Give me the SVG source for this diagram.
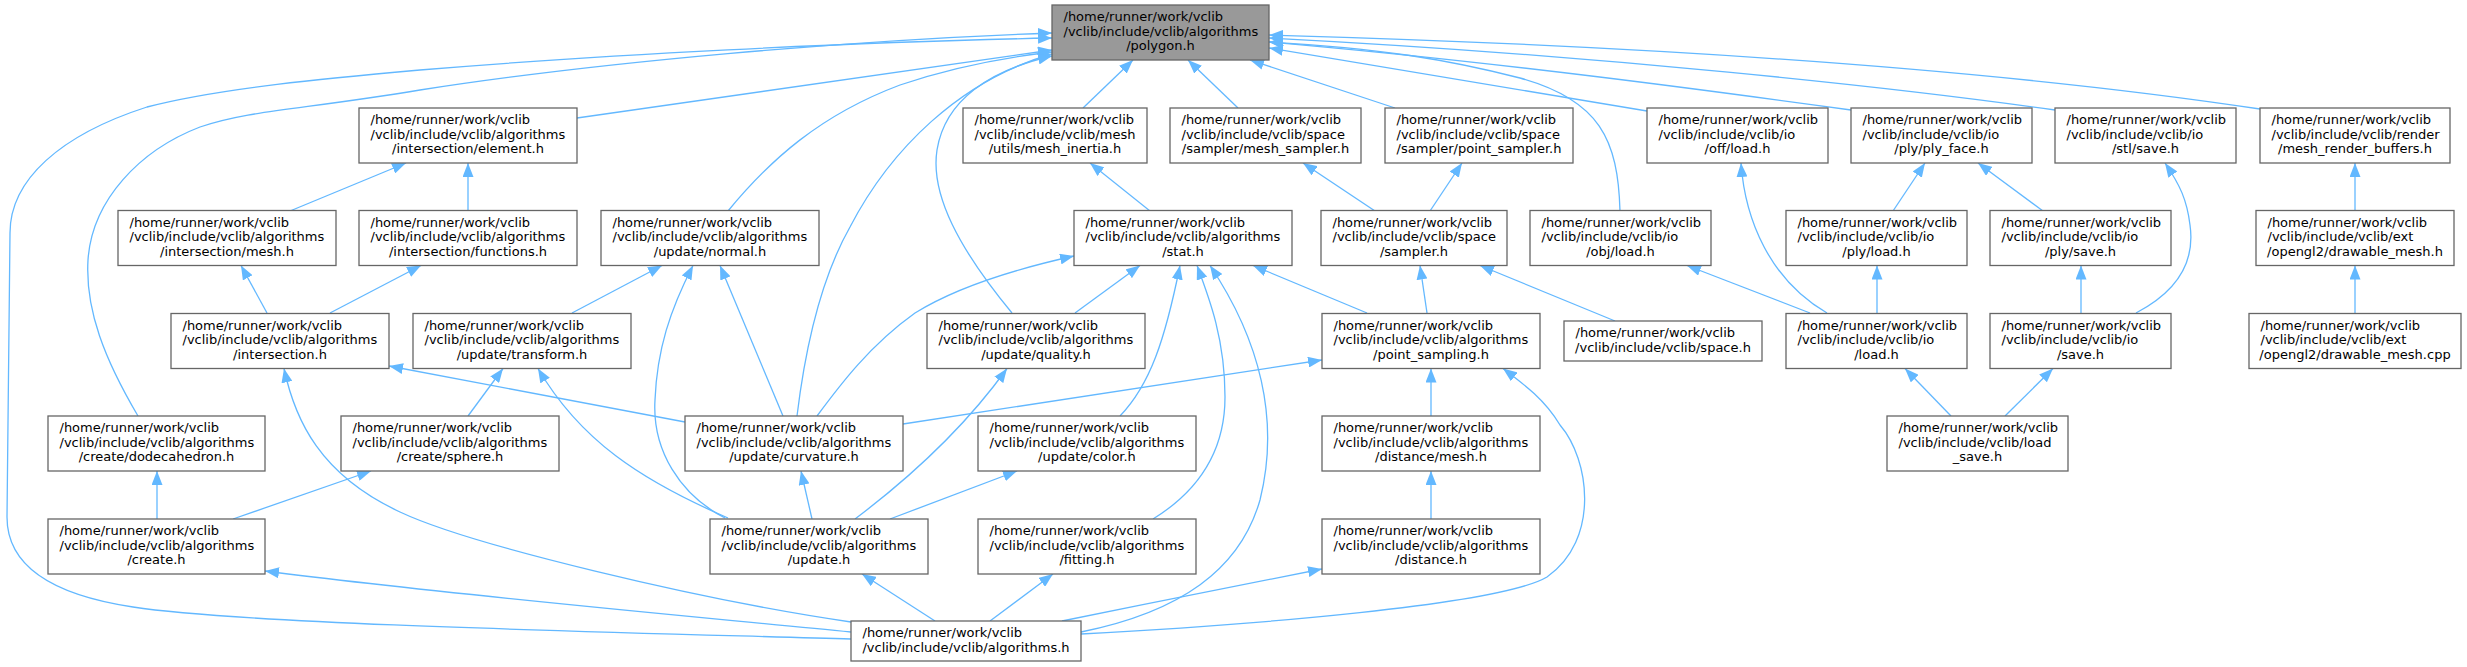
<svg xmlns="http://www.w3.org/2000/svg" width="2467" height="667" viewBox="0 0 2467 667">
<style>
.n rect{fill:#fff;stroke:#666;stroke-width:1.3}
.n text{font-family:"DejaVu Sans",sans-serif;font-size:13px;fill:#000}
.m{text-anchor:middle}
.e path{fill:none;stroke:#63b8ff;stroke-width:1.3;marker-end:url(#ah)}
</style>
<defs>
<marker id="ah" viewBox="0 0 14 11" refX="14" refY="5.5" markerWidth="14" markerHeight="11" markerUnits="userSpaceOnUse" orient="auto"><path d="M0,0 L14,5.5 L0,11 Z" fill="#63b8ff" stroke="none"/></marker>
</defs>
<rect width="2467" height="667" fill="#fff"/>
<g id="edges" class="e">
<path d="M851,639 C650,633 250,625 133,607 C60,596 7,570 7,517 L10,233 C10,180 60,135 147,107 C220,88 330,78 420,70 C600,55 850,42 1052,38"/>
<path d="M138,416 C105,360 85,310 88,260 C92,200 140,150 200,127 C250,110 300,110 420,90 C600,62 850,40 1052,33"/>
<path d="M577,118 L1052,50"/>
<path d="M728,211 C770,160 820,115 900,85 C950,68 1000,58 1052,52"/>
<path d="M797,416 C805,350 820,280 850,227 C890,150 960,80 1052,54"/>
<path d="M1012,313 C960,250 930,195 937,150 C945,100 990,70 1052,56"/>
<path d="M2260,109 C2100,85 1800,50 1269,35"/>
<path d="M2055,110 C1900,88 1600,55 1269,38"/>
<path d="M1851,110 C1720,92 1500,62 1269,42"/>
<path d="M1647,111 L1269,48"/>
<path d="M1620,211 C1618,140 1600,100 1520,78 C1450,60 1380,48 1269,42"/>
<path d="M1395,108 L1250,60"/>
<path d="M1238,108 L1188,60"/>
<path d="M1083,108 L1133,60"/>
<path d="M290,211 L406,163"/>
<path d="M468,211 L468,163"/>
<path d="M267,313 L241,265.5"/>
<path d="M330,313 L421,265.5"/>
<path d="M572,313 L662,265.5"/>
<path d="M725,518 C680,495 652,450 655,400 C657,350 670,310 693,265.5"/>
<path d="M783,416 L720,265.5"/>
<path d="M817,416 C840,385 870,345 915,313 C960,285 1020,268 1074,256"/>
<path d="M685,422 L389,366"/>
<path d="M812,519 L801,471"/>
<path d="M468,416 L503,368.5"/>
<path d="M728,518 C640,480 580,440 538,368.5"/>
<path d="M233,519 L371,471"/>
<path d="M157,519 L157,471"/>
<path d="M851,622 C700,600 470,545 400,512 C320,475 295,420 284,368.5"/>
<path d="M851,632 C700,617 450,595 265,571"/>
<path d="M935,621 L862,574"/>
<path d="M990,621 L1053,574"/>
<path d="M1062,621 C1150,603 1250,583 1322,569"/>
<path d="M1081,632 C1180,612 1240,570 1260,500 C1280,420 1260,340 1210,265.5"/>
<path d="M1081,634 C1250,625 1500,605 1547,577 C1600,540 1590,460 1560,425 C1545,400 1525,385 1503,368.5"/>
<path d="M855,519 C920,470 970,420 1007,368.5"/>
<path d="M890,519 L1017,471"/>
<path d="M1120,416 C1150,385 1165,340 1180,265.5"/>
<path d="M1153,519 C1200,490 1225,450 1225,397 C1225,340 1210,300 1197,265.5"/>
<path d="M1075,313 L1140,265.5"/>
<path d="M1150,211 L1090,163"/>
<path d="M1367,313 L1253,265.5"/>
<path d="M903,424 L1322,360"/>
<path d="M1427,313 L1420,265.5"/>
<path d="M1615,321 L1480,265.5"/>
<path d="M1375,211 L1303,163"/>
<path d="M1430,211 L1462,163"/>
<path d="M1431,416 L1431,368.5"/>
<path d="M1431,519 L1431,471"/>
<path d="M1827,313 C1770,280 1745,220 1741,163"/>
<path d="M1810,313 L1687,265.5"/>
<path d="M1877,313 L1877,265.5"/>
<path d="M1893,211 L1925,163"/>
<path d="M2043,211 L1978,163"/>
<path d="M2081,313 L2081,265.5"/>
<path d="M2136,313 C2180,290 2195,260 2190,225 C2187,200 2180,185 2165,163"/>
<path d="M1951,416 L1905,368.5"/>
<path d="M2005,416 L2053,368.5"/>
<path d="M2355,211 L2355,163"/>
<path d="M2355,313 L2355,265.5"/>
</g>
<g id="polygon_h" class="n"><rect x="1052" y="5" width="217" height="55" style="fill:#999"/><text><tspan x="1063.5" y="21">/home/runner/work/vclib</tspan><tspan x="1063.5" y="35.5">/vclib/include/vclib/algorithms</tspan><tspan class="m" x="1160.5" y="50">/polygon.h</tspan></text></g>
<g id="intersection_element_h" class="n"><rect x="359" y="108" width="218" height="55"/><text><tspan x="370.5" y="124">/home/runner/work/vclib</tspan><tspan x="370.5" y="138.5">/vclib/include/vclib/algorithms</tspan><tspan class="m" x="468" y="153">/intersection/element.h</tspan></text></g>
<g id="mesh_inertia_h" class="n"><rect x="963" y="108" width="184" height="55"/><text><tspan x="974.5" y="124">/home/runner/work/vclib</tspan><tspan x="974.5" y="138.5">/vclib/include/vclib/mesh</tspan><tspan class="m" x="1055" y="153">/utils/mesh_inertia.h</tspan></text></g>
<g id="mesh_sampler_h" class="n"><rect x="1170" y="108" width="191" height="55"/><text><tspan x="1181.5" y="124">/home/runner/work/vclib</tspan><tspan x="1181.5" y="138.5">/vclib/include/vclib/space</tspan><tspan class="m" x="1265.5" y="153">/sampler/mesh_sampler.h</tspan></text></g>
<g id="point_sampler_h" class="n"><rect x="1385" y="108" width="188" height="55"/><text><tspan x="1396.5" y="124">/home/runner/work/vclib</tspan><tspan x="1396.5" y="138.5">/vclib/include/vclib/space</tspan><tspan class="m" x="1479" y="153">/sampler/point_sampler.h</tspan></text></g>
<g id="off_load_h" class="n"><rect x="1647" y="108" width="181" height="55"/><text><tspan x="1658.5" y="124">/home/runner/work/vclib</tspan><tspan x="1658.5" y="138.5">/vclib/include/vclib/io</tspan><tspan class="m" x="1737.5" y="153">/off/load.h</tspan></text></g>
<g id="ply_face_h" class="n"><rect x="1851" y="108" width="181" height="55"/><text><tspan x="1862.5" y="124">/home/runner/work/vclib</tspan><tspan x="1862.5" y="138.5">/vclib/include/vclib/io</tspan><tspan class="m" x="1941.5" y="153">/ply/ply_face.h</tspan></text></g>
<g id="stl_save_h" class="n"><rect x="2055" y="108" width="181" height="55"/><text><tspan x="2066.5" y="124">/home/runner/work/vclib</tspan><tspan x="2066.5" y="138.5">/vclib/include/vclib/io</tspan><tspan class="m" x="2145.5" y="153">/stl/save.h</tspan></text></g>
<g id="mesh_render_buffers_h" class="n"><rect x="2260" y="108" width="190" height="55"/><text><tspan x="2271.5" y="124">/home/runner/work/vclib</tspan><tspan x="2271.5" y="138.5">/vclib/include/vclib/render</tspan><tspan class="m" x="2355" y="153">/mesh_render_buffers.h</tspan></text></g>
<g id="intersection_mesh_h" class="n"><rect x="118" y="210.5" width="218" height="55"/><text><tspan x="129.5" y="226.5">/home/runner/work/vclib</tspan><tspan x="129.5" y="241">/vclib/include/vclib/algorithms</tspan><tspan class="m" x="227" y="255.5">/intersection/mesh.h</tspan></text></g>
<g id="intersection_functions_h" class="n"><rect x="359" y="210.5" width="218" height="55"/><text><tspan x="370.5" y="226.5">/home/runner/work/vclib</tspan><tspan x="370.5" y="241">/vclib/include/vclib/algorithms</tspan><tspan class="m" x="468" y="255.5">/intersection/functions.h</tspan></text></g>
<g id="update_normal_h" class="n"><rect x="601" y="210.5" width="218" height="55"/><text><tspan x="612.5" y="226.5">/home/runner/work/vclib</tspan><tspan x="612.5" y="241">/vclib/include/vclib/algorithms</tspan><tspan class="m" x="710" y="255.5">/update/normal.h</tspan></text></g>
<g id="stat_h" class="n"><rect x="1074" y="210.5" width="218" height="55"/><text><tspan x="1085.5" y="226.5">/home/runner/work/vclib</tspan><tspan x="1085.5" y="241">/vclib/include/vclib/algorithms</tspan><tspan class="m" x="1183" y="255.5">/stat.h</tspan></text></g>
<g id="sampler_h" class="n"><rect x="1321" y="210.5" width="186" height="55"/><text><tspan x="1332.5" y="226.5">/home/runner/work/vclib</tspan><tspan x="1332.5" y="241">/vclib/include/vclib/space</tspan><tspan class="m" x="1414" y="255.5">/sampler.h</tspan></text></g>
<g id="obj_load_h" class="n"><rect x="1530" y="210.5" width="181" height="55"/><text><tspan x="1541.5" y="226.5">/home/runner/work/vclib</tspan><tspan x="1541.5" y="241">/vclib/include/vclib/io</tspan><tspan class="m" x="1620.5" y="255.5">/obj/load.h</tspan></text></g>
<g id="ply_load_h" class="n"><rect x="1786" y="210.5" width="181" height="55"/><text><tspan x="1797.5" y="226.5">/home/runner/work/vclib</tspan><tspan x="1797.5" y="241">/vclib/include/vclib/io</tspan><tspan class="m" x="1876.5" y="255.5">/ply/load.h</tspan></text></g>
<g id="ply_save_h" class="n"><rect x="1990" y="210.5" width="181" height="55"/><text><tspan x="2001.5" y="226.5">/home/runner/work/vclib</tspan><tspan x="2001.5" y="241">/vclib/include/vclib/io</tspan><tspan class="m" x="2080.5" y="255.5">/ply/save.h</tspan></text></g>
<g id="drawable_mesh_h" class="n"><rect x="2256" y="210.5" width="198" height="55"/><text><tspan x="2267.5" y="226.5">/home/runner/work/vclib</tspan><tspan x="2267.5" y="241">/vclib/include/vclib/ext</tspan><tspan class="m" x="2355" y="255.5">/opengl2/drawable_mesh.h</tspan></text></g>
<g id="intersection_h" class="n"><rect x="171" y="313.5" width="218" height="55"/><text><tspan x="182.5" y="329.5">/home/runner/work/vclib</tspan><tspan x="182.5" y="344">/vclib/include/vclib/algorithms</tspan><tspan class="m" x="280" y="358.5">/intersection.h</tspan></text></g>
<g id="update_transform_h" class="n"><rect x="413" y="313.5" width="218" height="55"/><text><tspan x="424.5" y="329.5">/home/runner/work/vclib</tspan><tspan x="424.5" y="344">/vclib/include/vclib/algorithms</tspan><tspan class="m" x="522" y="358.5">/update/transform.h</tspan></text></g>
<g id="update_quality_h" class="n"><rect x="927" y="313.5" width="218" height="55"/><text><tspan x="938.5" y="329.5">/home/runner/work/vclib</tspan><tspan x="938.5" y="344">/vclib/include/vclib/algorithms</tspan><tspan class="m" x="1036" y="358.5">/update/quality.h</tspan></text></g>
<g id="point_sampling_h" class="n"><rect x="1322" y="313.5" width="218" height="55"/><text><tspan x="1333.5" y="329.5">/home/runner/work/vclib</tspan><tspan x="1333.5" y="344">/vclib/include/vclib/algorithms</tspan><tspan class="m" x="1431" y="358.5">/point_sampling.h</tspan></text></g>
<g id="space_h" class="n"><rect x="1564" y="321" width="198" height="40"/><text><tspan x="1575.5" y="337">/home/runner/work/vclib</tspan><tspan class="m" x="1663" y="351.5">/vclib/include/vclib/space.h</tspan></text></g>
<g id="io_load_h" class="n"><rect x="1786" y="313.5" width="181" height="55"/><text><tspan x="1797.5" y="329.5">/home/runner/work/vclib</tspan><tspan x="1797.5" y="344">/vclib/include/vclib/io</tspan><tspan class="m" x="1876.5" y="358.5">/load.h</tspan></text></g>
<g id="io_save_h" class="n"><rect x="1990" y="313.5" width="181" height="55"/><text><tspan x="2001.5" y="329.5">/home/runner/work/vclib</tspan><tspan x="2001.5" y="344">/vclib/include/vclib/io</tspan><tspan class="m" x="2080.5" y="358.5">/save.h</tspan></text></g>
<g id="drawable_mesh_cpp" class="n"><rect x="2249" y="313.5" width="212" height="55"/><text><tspan x="2260.5" y="329.5">/home/runner/work/vclib</tspan><tspan x="2260.5" y="344">/vclib/include/vclib/ext</tspan><tspan class="m" x="2355" y="358.5">/opengl2/drawable_mesh.cpp</tspan></text></g>
<g id="create_dodecahedron_h" class="n"><rect x="48" y="416" width="217" height="55"/><text><tspan x="59.5" y="432">/home/runner/work/vclib</tspan><tspan x="59.5" y="446.5">/vclib/include/vclib/algorithms</tspan><tspan class="m" x="156.5" y="461">/create/dodecahedron.h</tspan></text></g>
<g id="create_sphere_h" class="n"><rect x="341" y="416" width="218" height="55"/><text><tspan x="352.5" y="432">/home/runner/work/vclib</tspan><tspan x="352.5" y="446.5">/vclib/include/vclib/algorithms</tspan><tspan class="m" x="450" y="461">/create/sphere.h</tspan></text></g>
<g id="update_curvature_h" class="n"><rect x="685" y="416" width="218" height="55"/><text><tspan x="696.5" y="432">/home/runner/work/vclib</tspan><tspan x="696.5" y="446.5">/vclib/include/vclib/algorithms</tspan><tspan class="m" x="794" y="461">/update/curvature.h</tspan></text></g>
<g id="update_color_h" class="n"><rect x="978" y="416" width="218" height="55"/><text><tspan x="989.5" y="432">/home/runner/work/vclib</tspan><tspan x="989.5" y="446.5">/vclib/include/vclib/algorithms</tspan><tspan class="m" x="1087" y="461">/update/color.h</tspan></text></g>
<g id="distance_mesh_h" class="n"><rect x="1322" y="416" width="218" height="55"/><text><tspan x="1333.5" y="432">/home/runner/work/vclib</tspan><tspan x="1333.5" y="446.5">/vclib/include/vclib/algorithms</tspan><tspan class="m" x="1431" y="461">/distance/mesh.h</tspan></text></g>
<g id="load_save_h" class="n"><rect x="1887" y="416" width="181" height="55"/><text><tspan x="1898.5" y="432">/home/runner/work/vclib</tspan><tspan x="1898.5" y="446.5">/vclib/include/vclib/load</tspan><tspan class="m" x="1977.5" y="461">_save.h</tspan></text></g>
<g id="create_h" class="n"><rect x="48" y="519" width="217" height="55"/><text><tspan x="59.5" y="535">/home/runner/work/vclib</tspan><tspan x="59.5" y="549.5">/vclib/include/vclib/algorithms</tspan><tspan class="m" x="156.5" y="564">/create.h</tspan></text></g>
<g id="update_h" class="n"><rect x="710" y="519" width="218" height="55"/><text><tspan x="721.5" y="535">/home/runner/work/vclib</tspan><tspan x="721.5" y="549.5">/vclib/include/vclib/algorithms</tspan><tspan class="m" x="819" y="564">/update.h</tspan></text></g>
<g id="fitting_h" class="n"><rect x="978" y="519" width="218" height="55"/><text><tspan x="989.5" y="535">/home/runner/work/vclib</tspan><tspan x="989.5" y="549.5">/vclib/include/vclib/algorithms</tspan><tspan class="m" x="1087" y="564">/fitting.h</tspan></text></g>
<g id="distance_h" class="n"><rect x="1322" y="519" width="218" height="55"/><text><tspan x="1333.5" y="535">/home/runner/work/vclib</tspan><tspan x="1333.5" y="549.5">/vclib/include/vclib/algorithms</tspan><tspan class="m" x="1431" y="564">/distance.h</tspan></text></g>
<g id="algorithms_h" class="n"><rect x="851" y="621" width="230" height="40"/><text><tspan x="862.5" y="637">/home/runner/work/vclib</tspan><tspan class="m" x="966" y="651.5">/vclib/include/vclib/algorithms.h</tspan></text></g>
</svg>
